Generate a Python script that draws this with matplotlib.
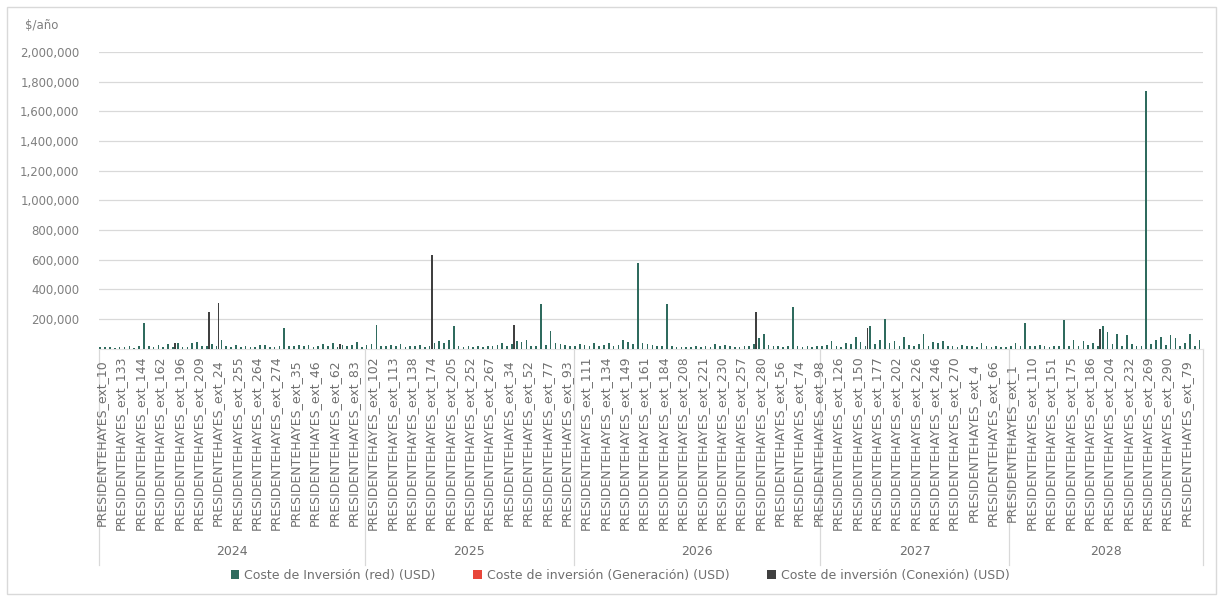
import numpy as np
import matplotlib
matplotlib.use("Agg")
import matplotlib.pyplot as plt
from matplotlib.patches import Patch, Rectangle
from matplotlib.transforms import blended_transform_factory
from matplotlib.ticker import FuncFormatter

# ---------------- data (values in thousands of USD per year) ----------------
years = ['2024', '2025', '2026', '2027', '2028']

labels_2024 = ['PRESIDENTEHAYES_ext_10', 'PRESIDENTEHAYES_ext_133', 'PRESIDENTEHAYES_ext_144',
               'PRESIDENTEHAYES_ext_162', 'PRESIDENTEHAYES_ext_196', 'PRESIDENTEHAYES_ext_209',
               'PRESIDENTEHAYES_ext_24', 'PRESIDENTEHAYES_ext_255', 'PRESIDENTEHAYES_ext_264',
               'PRESIDENTEHAYES_ext_274', 'PRESIDENTEHAYES_ext_35', 'PRESIDENTEHAYES_ext_46',
               'PRESIDENTEHAYES_ext_62', 'PRESIDENTEHAYES_ext_83']
labels_2025 = ['PRESIDENTEHAYES_ext_102', 'PRESIDENTEHAYES_ext_113', 'PRESIDENTEHAYES_ext_138',
               'PRESIDENTEHAYES_ext_174', 'PRESIDENTEHAYES_ext_205', 'PRESIDENTEHAYES_ext_252',
               'PRESIDENTEHAYES_ext_267', 'PRESIDENTEHAYES_ext_34', 'PRESIDENTEHAYES_ext_52',
               'PRESIDENTEHAYES_ext_77', 'PRESIDENTEHAYES_ext_93']
labels_2026 = ['PRESIDENTEHAYES_ext_111', 'PRESIDENTEHAYES_ext_134', 'PRESIDENTEHAYES_ext_149',
               'PRESIDENTEHAYES_ext_161', 'PRESIDENTEHAYES_ext_184', 'PRESIDENTEHAYES_ext_208',
               'PRESIDENTEHAYES_ext_221', 'PRESIDENTEHAYES_ext_230', 'PRESIDENTEHAYES_ext_257',
               'PRESIDENTEHAYES_ext_280', 'PRESIDENTEHAYES_ext_56', 'PRESIDENTEHAYES_ext_74',
               'PRESIDENTEHAYES_ext_98']
labels_2027 = ['PRESIDENTEHAYES_ext_126', 'PRESIDENTEHAYES_ext_150', 'PRESIDENTEHAYES_ext_177',
               'PRESIDENTEHAYES_ext_202', 'PRESIDENTEHAYES_ext_226', 'PRESIDENTEHAYES_ext_246',
               'PRESIDENTEHAYES_ext_270', 'PRESIDENTEHAYES_ext_4', 'PRESIDENTEHAYES_ext_66']
labels_2028 = ['PRESIDENTEHAYES_ext_1', 'PRESIDENTEHAYES_ext_110', 'PRESIDENTEHAYES_ext_151',
               'PRESIDENTEHAYES_ext_175', 'PRESIDENTEHAYES_ext_186', 'PRESIDENTEHAYES_ext_204',
               'PRESIDENTEHAYES_ext_232', 'PRESIDENTEHAYES_ext_269', 'PRESIDENTEHAYES_ext_290',
               'PRESIDENTEHAYES_ext_79']

# Coste de Inversión (red)
red_2024 = [12, 8, 10, 6, 14, 9, 18, 7, 15, 170, 20, 8, 22, 10, 30, 10, 38, 12, 10, 35,
            42, 18, 15, 30, 20, 60, 20, 12, 25, 8, 18, 10, 14, 22, 28, 12, 9, 16, 140, 20,
            15, 22, 18, 25, 14, 20, 30, 18, 35, 10, 28, 15, 22, 45, 12]
red_2025 = [25, 30, 160, 20, 15, 25, 18, 30, 12, 20, 15, 22, 10, 20, 40, 55, 35, 60, 150, 20,
            12, 18, 10, 15, 12, 20, 18, 22, 35, 15, 30, 50, 45, 60, 20, 15, 300, 25, 120, 40,
            30, 22, 18]
red_2026 = [20, 30, 25, 15, 35, 20, 28, 40, 18, 22, 60, 45, 30, 580, 40, 30, 25, 15, 20, 300,
            15, 10, 8, 12, 10, 15, 8, 20, 12, 30, 15, 25, 18, 12, 10, 15, 20, 30, 70, 100,
            25, 15, 20, 10, 15, 280, 20, 12, 15, 10, 18]
red_2027 = [15, 25, 50, 20, 12, 40, 30, 80, 45, 20, 150, 30, 60, 200, 35, 50, 20, 80, 25, 15,
            30, 100, 20, 45, 35, 50, 15, 20, 10, 25, 15, 20, 12, 40, 15, 10, 20, 12, 8]
red_2028 = [20, 35, 15, 170, 20, 15, 25, 18, 12, 20, 15, 190, 20, 60, 15, 50, 25, 40, 20, 150,
            110, 30, 100, 20, 90, 30, 15, 20, 1740, 30, 60, 80, 25, 90, 70, 20, 35, 100, 20, 60]

# Coste de inversión (Conexión)
con_2024 = [0, 0, 0, 0, 0, 0, 0, 0, 0, 0, 0, 0, 0, 0, 0, 40, 0, 0, 0, 0,
            0, 0, 250, 0, 310, 0, 0, 0, 0, 0, 0, 0, 0, 0, 0, 0, 0, 0, 0, 0,
            0, 0, 0, 0, 0, 0, 0, 0, 0, 30, 0, 0, 0, 0, 0]
con_2025 = [0, 0, 0, 0, 0, 0, 0, 0, 0, 0, 0, 0, 0, 630, 0, 0, 0, 0, 0, 0,
            0, 0, 0, 0, 0, 0, 0, 0, 0, 0, 160, 0, 0, 0, 0, 0, 0, 0, 0, 0,
            0, 0, 0]
con_2026 = [0, 0, 0, 0, 0, 0, 0, 0, 0, 0, 0, 0, 0, 0, 0, 0, 0, 0, 0, 0,
            0, 0, 0, 0, 0, 0, 0, 0, 0, 0, 0, 0, 0, 0, 0, 0, 0, 250, 0, 0,
            0, 0, 0, 0, 0, 0, 0, 0, 0, 0, 0]
con_2027 = [0, 0, 0, 0, 0, 0, 0, 0, 0, 140, 0, 0, 0, 0, 0, 0, 0, 0, 0, 0,
            0, 0, 0, 0, 0, 0, 0, 0, 0, 0, 0, 0, 0, 0, 0, 0, 0, 0, 0]
con_2028 = [0, 0, 0, 0, 0, 0, 0, 0, 0, 0, 0, 0, 0, 0, 0, 0, 0, 0, 130, 0,
            0, 0, 0, 0, 0, 0, 0, 0, 0, 0, 0, 0, 0, 0, 0, 0, 0, 0, 0, 0]

series_names = ['Coste de Inversión (red) (USD)',
                'Coste de inversión (Generación) (USD)',
                'Coste de inversión (Conexión) (USD)']
colors = ['#2f6b5e', '#e8463a', '#404040']
label_step = 4

# ---------------- assemble ----------------
red = np.array(red_2024 + red_2025 + red_2026 + red_2027 + red_2028, dtype=float) * 1000
con = np.array(con_2024 + con_2025 + con_2026 + con_2027 + con_2028, dtype=float) * 1000
gen = np.zeros_like(red)  # generation series is zero throughout in the chart
tick_labels = labels_2024 + labels_2025 + labels_2026 + labels_2027 + labels_2028
sizes = [len(red_2024), len(red_2025), len(red_2026), len(red_2027), len(red_2028)]
n = len(red)
x = np.arange(n)

fig = plt.figure(figsize=(12.23, 5.99), dpi=100)
fig.patch.set_facecolor('white')
fig.add_artist(Rectangle((0.006, 0.008), 0.988, 0.98, transform=fig.transFigure,
                         fill=False, edgecolor='#d9d9d9', linewidth=1.0))

ax = fig.add_axes([0.0809, 0.4179, 0.9028, 0.4953])
bw = 0.34
ax.bar(x - 0.22, red, width=bw, color=colors[0], zorder=3, linewidth=0)
ax.bar(x, gen, width=bw, color=colors[1], zorder=3, linewidth=0)
ax.bar(x + 0.22, con, width=bw, color=colors[2], zorder=3, linewidth=0)

ax.set_xlim(-0.5, n - 0.5)
ax.set_ylim(0, 2_000_000)
yt = np.arange(200_000, 2_000_001, 200_000)
ax.set_yticks(yt)
ax.yaxis.set_major_formatter(FuncFormatter(lambda v, p: f'{int(v):,}'))
ax.tick_params(axis='y', length=0, labelsize=8.5, labelcolor='#7f7f7f', pad=14)
ax.grid(axis='y', color='#d9d9d9', linewidth=0.9, zorder=0)
ax.set_xticks([])
for s in ['top', 'right', 'left']:
    ax.spines[s].set_visible(False)
ax.spines['bottom'].set_color('#e3e3e3')

trans = blended_transform_factory(ax.transData, ax.transAxes)
# category labels (every label_step-th category)
for k, lab in enumerate(tick_labels):
    ax.text(k * label_step, -0.318, lab, rotation=90, ha='center', va='center',
            fontsize=9, color='#6f6f6f', transform=trans, clip_on=False)

# year group labels and separators
bounds = np.concatenate([[0], np.cumsum(sizes)]) - 0.5
for i, yr in enumerate(years):
    ax.text((bounds[i] + bounds[i + 1]) / 2, -0.682, yr, ha='center', va='center',
            fontsize=9, color='#6f6f6f', transform=trans, clip_on=False)
for b in bounds:
    ax.plot([b, b], [0, -0.73], color='#d9d9d9', linewidth=0.9,
            transform=trans, clip_on=False)

fig.text(0.0204, 0.958, '$/año', fontsize=8.5, color='#7f7f7f', ha='left', va='center')

handles = [Patch(facecolor=c, edgecolor='none') for c in colors]
fig.legend(handles, series_names, loc='center', bbox_to_anchor=(0.507, 0.04), ncol=3,
           frameon=False, fontsize=9, labelcolor='#6f6f6f', handlelength=0.7,
           handleheight=0.7, handletextpad=0.4, columnspacing=3.0)

fig.savefig('out.png', dpi=100, facecolor='white')
